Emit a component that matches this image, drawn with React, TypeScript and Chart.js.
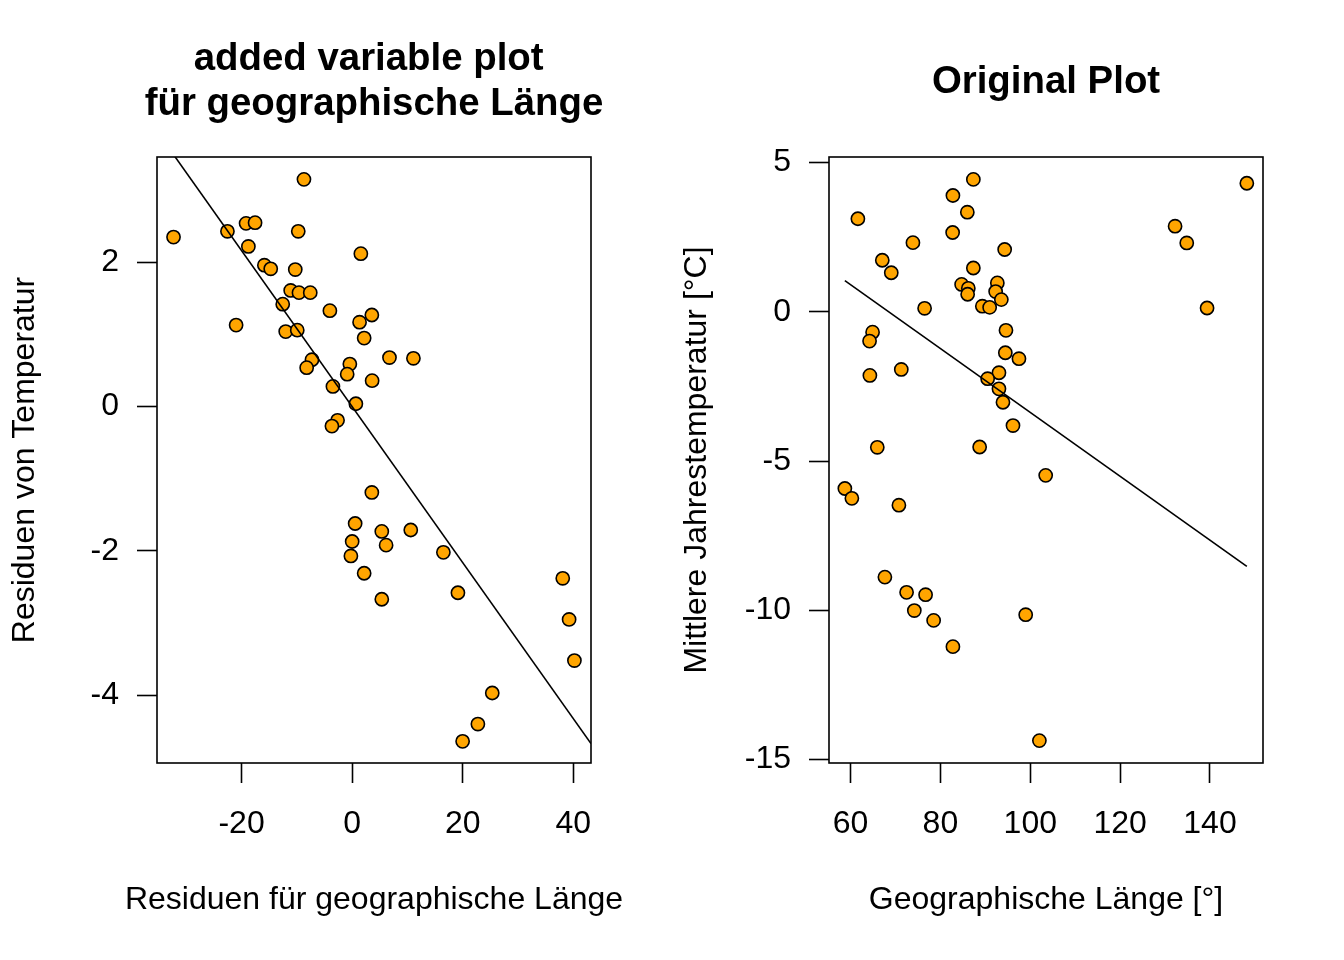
import React, { useEffect, useRef } from 'react';
import { Chart, registerables } from 'chart.js';

Chart.register(...registerables);

// ---- Data: added variable plot (residuals) ----
const LEFT_X = [
  -32.31, -8.72, -22.56, -19.19, -17.56, -9.75, -18.77, 1.57, -15.88, -14.73,
  -10.29, -11.12, -9.62, -7.58, -12.56, -4.03, -20.99, 1.34, 3.56, -12.02,
  -9.93, 2.17, -7.27, -8.23, -0.42, -0.9, 3.61, -3.48, 0.67, -2.64,
  -3.66, 6.75, 11.08, 3.56, 0.54, 5.36, 10.6, 0.0, 6.14, -0.23,
  16.5, 2.17, 19.13, 5.36, 38.09, 39.24, 40.2, 25.34, 22.74, 19.98,
];
const LEFT_Y = [
  2.35, 3.15, 2.43, 2.54, 2.55, 2.43, 2.22, 2.12, 1.96, 1.91,
  1.9, 1.61, 1.58, 1.58, 1.42, 1.33, 1.13, 1.17, 1.27, 1.04,
  1.06, 0.95, 0.65, 0.54, 0.59, 0.45, 0.36, 0.28, 0.04, -0.19,
  -0.27, 0.68, 0.67, -1.19, -1.62, -1.73, -1.71, -1.87, -1.92, -2.07,
  -2.02, -2.31, -2.58, -2.67, -2.38, -2.95, -3.52, -3.97, -4.4, -4.64,
];

// ---- Data: original plot ----
const RIGHT_X = [
  87.33, 82.78, 85.99, 61.63, 82.72, 73.88, 94.3, 67.06, 69.06, 87.33,
  84.72, 86.21, 86.06, 92.67, 92.29, 93.56, 89.33, 90.96, 76.48, 64.9,
  64.23, 94.59, 94.45, 97.48, 64.3, 71.29, 93.03, 90.51, 93.03, 93.92,
  96.15, 65.95, 88.73, 103.43, 58.73, 60.29, 70.76, 67.64, 72.47, 76.7,
  74.19, 78.49, 82.78, 98.98, 102.03, 148.2, 132.23, 134.83, 139.35,
];
const RIGHT_Y = [
  4.44, 3.9, 3.34, 3.12, 2.66, 2.32, 2.09, 1.73, 1.31, 1.47,
  0.92, 0.79, 0.59, 0.97, 0.68, 0.41, 0.19, 0.15, 0.12, -0.68,
  -0.98, -0.62, -1.37, -1.57, -2.13, -1.93, -2.04, -2.24, -2.58, -3.03,
  -3.81, -4.54, -4.53, -5.48, -5.92, -6.25, -6.48, -8.89, -9.4, -9.48,
  -10.01, -10.34, -11.22, -10.15, -14.37, 4.31, 2.87, 2.31, 0.13,
];

const LEFT_X_TICKS = [-20, 0, 20, 40];
const LEFT_Y_TICKS = [-4, -2, 0, 2];
const RIGHT_X_TICKS = [60, 80, 100, 120, 140];
const RIGHT_Y_TICKS = [-15, -10, -5, 0, 5];

const LEFT_FIT = { intercept: 0, slope: -0.1081 };
const RIGHT_FIT = { intercept: 7.33, slope: -0.107 };

const LEFT_RANGE = { xMin: -35.3, xMax: 43.2, yMin: -4.94, yMax: 3.46 };
const RIGHT_RANGE = { xMin: 55.2, xMax: 151.8, yMin: -15.12, yMax: 5.19 };

const LEFT_TITLE = ['added variable plot ', 'für geographische Länge'];
const RIGHT_TITLE = ['Original Plot'];

const FONT = "'Liberation Sans', Arial, Helvetica, sans-serif";

// Draws the plot box plus main title and axis titles (R-style, not limited to the scale width)
const decorPlugin = {
  id: 'decor',
  afterDraw(chart: any, _args: any, opts: any) {
    const { ctx, chartArea } = chart;
    const cx = (chartArea.left + chartArea.right) / 2;
    const cy = (chartArea.top + chartArea.bottom) / 2;
    ctx.save();
    ctx.strokeStyle = '#000';
    ctx.lineWidth = 1.6;
    ctx.strokeRect(chartArea.left, chartArea.top, chartArea.right - chartArea.left, chartArea.bottom - chartArea.top);

    ctx.fillStyle = '#000';
    ctx.textAlign = 'center';
    ctx.textBaseline = 'middle';

    // main title, block centred around y = 82
    ctx.font = `bold 38.4px ${FONT}`;
    const lines: string[] = opts.title || [];
    const lh = 45;
    const mid = 82;
    const y0 = mid - ((lines.length - 1) * lh) / 2;
    lines.forEach((t, i) => ctx.fillText(t, cx, y0 + i * lh));

    // axis titles
    ctx.font = `32px ${FONT}`;
    ctx.fillText(opts.xLabel || '', cx, 900);
    ctx.save();
    ctx.translate(25, cy);
    ctx.rotate(-Math.PI / 2);
    ctx.fillText(opts.yLabel || '', 0, 0);
    ctx.restore();
    ctx.restore();
  },
};

type PanelProps = {
  title: string[];
  xLabel: string;
  yLabel: string;
  xs: number[];
  ys: number[];
  xTicks: number[];
  yTicks: number[];
  fit: { intercept: number; slope: number };
  range: { xMin: number; xMax: number; yMin: number; yMax: number };
  fullLine: boolean;
};

function Panel(p: PanelProps) {
  const ref = useRef<HTMLCanvasElement | null>(null);
  useEffect(() => {
    if (!ref.current) return;
    const pts = p.xs.map((x, i) => ({ x, y: p.ys[i] }));
    const lx0 = p.fullLine ? p.range.xMin : Math.min(...p.xs);
    const lx1 = p.fullLine ? p.range.xMax : Math.max(...p.xs);
    const linePts = [lx0, lx1].map((x) => ({ x, y: p.fit.intercept + p.fit.slope * x }));
    const tickFont = { family: FONT, size: 32, lineHeight: 1.2 };
    const chart = new Chart(ref.current, {
      type: 'scatter',
      data: {
        datasets: [
          {
            type: 'line',
            data: linePts,
            borderColor: '#000',
            borderWidth: 1.6,
            pointRadius: 0,
            showLine: true,
            fill: false,
          } as any,
          {
            data: pts,
            backgroundColor: '#FFA500',
            borderColor: '#000',
            borderWidth: 1.6,
            pointRadius: 6.6,
            pointHoverRadius: 6.6,
          },
        ],
      },
      options: {
        animation: false,
        responsive: false,
        events: [],
        layout: { padding: { left: 0, right: 81, top: 157, bottom: 0 } },
        plugins: {
          legend: { display: false },
          tooltip: { enabled: false },
          title: { display: false },
          decor: { title: p.title, xLabel: p.xLabel, yLabel: p.yLabel },
        },
        scales: {
          x: {
            type: 'linear',
            min: p.range.xMin,
            max: p.range.xMax,
            afterBuildTicks: (s: any) => {
              s.ticks = p.xTicks.map((v) => ({ value: v }));
            },
            afterFit: (s: any) => {
              s.height = 197;
              s.paddingLeft = 0;
              s.paddingRight = 0;
            },
            ticks: {
              color: '#000',
              font: tickFont,
              padding: 22,
              maxRotation: 0,
              autoSkip: false,
              callback: (v: any) => String(v),
            },
            grid: {
              display: true,
              drawOnChartArea: false,
              drawTicks: true,
              tickLength: 20,
              tickColor: '#000',
              tickWidth: 1.6,
            },
            border: { display: false },
            title: { display: false },
          },
          y: {
            type: 'linear',
            min: p.range.yMin,
            max: p.range.yMax,
            afterBuildTicks: (s: any) => {
              s.ticks = p.yTicks.map((v) => ({ value: v }));
            },
            afterFit: (s: any) => {
              s.width = 157;
              s.paddingTop = 0;
              s.paddingBottom = 0;
            },
            ticks: {
              color: '#000',
              font: tickFont,
              padding: 18,
              autoSkip: false,
              callback: (v: any) => String(v),
            },
            grid: {
              display: true,
              drawOnChartArea: false,
              drawTicks: true,
              tickLength: 20,
              tickColor: '#000',
              tickWidth: 1.6,
            },
            border: { display: false },
            title: { display: false },
          },
        },
      } as any,
      plugins: [decorPlugin],
    });
    return () => chart.destroy();
  }, []);
  return <canvas ref={ref} width={672} height={960} style={{ display: 'block', width: 672, height: 960 }} />;
}

export default function App() {
  return (
    <div style={{ position: 'absolute', left: 0, top: 0, width: 1344, height: 960, display: 'flex', background: '#fff' }}>
      <Panel
        title={LEFT_TITLE}
        xLabel="Residuen für geographische Länge"
        yLabel="Residuen von Temperatur"
        xs={LEFT_X}
        ys={LEFT_Y}
        xTicks={LEFT_X_TICKS}
        yTicks={LEFT_Y_TICKS}
        fit={LEFT_FIT}
        range={LEFT_RANGE}
        fullLine={true}
      />
      <Panel
        title={RIGHT_TITLE}
        xLabel="Geographische Länge [°]"
        yLabel="Mittlere Jahrestemperatur [°C]"
        xs={RIGHT_X}
        ys={RIGHT_Y}
        xTicks={RIGHT_X_TICKS}
        yTicks={RIGHT_Y_TICKS}
        fit={RIGHT_FIT}
        range={RIGHT_RANGE}
        fullLine={false}
      />
    </div>
  );
}
